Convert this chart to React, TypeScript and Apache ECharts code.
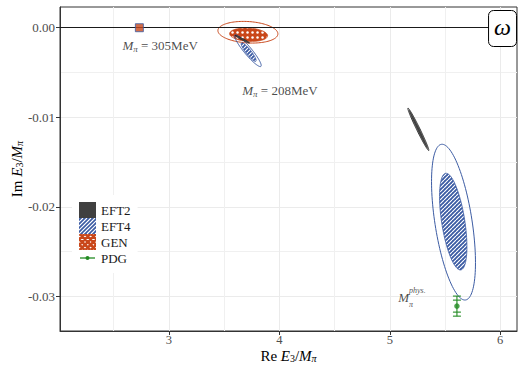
import React, { useEffect, useRef } from "react";
import * as echarts from "echarts";

// axis ranges and ticks
const X_MIN = 2.0133;
const X_MAX = 6.152;
const Y_MIN = -0.03388;
const Y_MAX = 0.002315;
const X_TICKS = [3, 4, 5, 6];
const X_MINOR = [2.5, 3.5, 4.5, 5.5];
const Y_TICKS = [-0.03, -0.02, -0.01, 0];
const Y_MINOR = [-0.025, -0.015, -0.005];

// ellipses: [centre Re, centre Im, sigma Re, sigma Im, correlation]
const GEN_BAND = [[3.7215, -0.00078, 0.172, 0.00075, -0.15]];
const GEN_OUTLINE = [[3.715, -0.000503, 0.2716, 0.00121, -0.15]];
const EFT4_BAND = [
  [3.7215, -0.00272, 0.0679, 0.00104, -0.9],
  [5.5745, -0.02166, 0.124, 0.0054, -0.52],
];
const EFT4_OUTLINE = [
  [3.715, -0.00257, 0.1204, 0.00177, -0.93],
  [5.577, -0.02172, 0.199, 0.0087, -0.52],
];
const EFT2_BAND = [
  [3.665, -0.001286, 0.058, 0.00038, -0.985],
  [5.2585, -0.01135, 0.085, 0.00215, -0.99],
];
const EFT2_OUTLINE = [
  [3.665, -0.001286, 0.0652, 0.000425, -0.98],
  [5.2585, -0.01135, 0.095, 0.00237, -0.985],
];
// 305 MeV point (zero width)
const M305_POINT = [[2.732, 0]];
// PDG omega: [Re, Im], errors [inner, outer]
const PDG_POINT = [[5.608, -0.0311]];
const PDG_ERRORS = [[0.00067, 0.00112]];
// labels
const MASS_LABELS = [
  [2.92, -0.00201, "305"],
  [4.005, -0.00701, "208"],
];
const PHYS_LABEL = [[5.2, -0.0301]];
const LEGEND_NAMES = ["EFT2", "EFT4", "GEN", "PDG"];

const FONT = "'Liberation Serif', 'DejaVu Serif', serif";
const BLUE = "#3b5ba3";
const ORANGE = "#c9471a";
const DARK = "#404040";
const GREEN = "#238b23";

function makeCanvas(w: number, h: number) {
  const c = document.createElement("canvas");
  c.width = w;
  c.height = h;
  return c;
}

function drawStripes(g: CanvasRenderingContext2D, w: number, h: number, p: number) {
  g.fillStyle = BLUE;
  g.fillRect(0, 0, w, h);
  g.strokeStyle = "#ffffff";
  g.lineWidth = 1.15;
  g.beginPath();
  for (let k = -h; k < w + h; k += p) {
    g.moveTo(k, h);
    g.lineTo(k + h, 0);
  }
  g.stroke();
}

function drawCross(g: CanvasRenderingContext2D, w: number, h: number, p: number) {
  g.fillStyle = ORANGE;
  g.fillRect(0, 0, w, h);
  g.fillStyle = "#ffffff";
  for (let x = p / 2; x < w + p; x += p) {
    for (let y = p / 2; y < h + p; y += p) {
      g.beginPath();
      g.arc(x, y, 1.25, 0, Math.PI * 2);
      g.fill();
    }
  }
}

function stripePattern() {
  const c = makeCanvas(4, 4);
  drawStripes(c.getContext("2d")!, 4, 4, 4);
  return { image: c.toDataURL(), repeat: "repeat", imageWidth: 4, imageHeight: 4 };
}

function crossPattern() {
  const c = makeCanvas(5, 5);
  drawCross(c.getContext("2d")!, 5, 5, 5);
  return { image: c.toDataURL(), repeat: "repeat", imageWidth: 5, imageHeight: 5 };
}

function legendIcon(kind: string) {
  const w = 17, h = 16;
  const c = makeCanvas(w, h);
  const g = c.getContext("2d")!;
  if (kind === "EFT2") {
    g.fillStyle = DARK;
    g.fillRect(0, 0, w, h);
  } else if (kind === "EFT4") {
    drawStripes(g, w, h, 4);
  } else if (kind === "GEN") {
    g.fillStyle = "#ffffff";
    g.fillRect(0, 0, w, h);
    g.strokeStyle = ORANGE;
    g.lineWidth = 2.6;
    g.beginPath();
    for (let k = -h; k < w + h; k += 5.6) {
      g.moveTo(k, h);
      g.lineTo(k + h, 0);
      g.moveTo(k, 0);
      g.lineTo(k + h, h);
    }
    g.stroke();
  } else {
    g.strokeStyle = GREEN;
    g.lineWidth = 1.3;
    g.beginPath();
    g.moveTo(1, 8);
    g.lineTo(16, 8);
    g.stroke();
    g.fillStyle = GREEN;
    g.beginPath();
    g.arc(8.5, 8, 2, 0, Math.PI * 2);
    g.fill();
  }
  return "image://" + c.toDataURL();
}

function ellipseSeries(name: string, data: number[][], style: any, z: number) {
  return {
    type: "custom",
    name,
    data,
    z,
    silent: true,
    renderItem: (_params: any, api: any) => {
      const cx = api.value(0), cy = api.value(1), sx = api.value(2), sy = api.value(3), r = api.value(4);
      const k = Math.sqrt(1 - r * r);
      const pts: number[][] = [];
      const n = 120;
      for (let i = 0; i < n; i++) {
        const t = (i / n) * Math.PI * 2;
        pts.push(api.coord([cx + sx * Math.cos(t), cy + sy * (r * Math.cos(t) + k * Math.sin(t))]));
      }
      return { type: "polygon", shape: { points: pts }, style: { ...style } };
    },
  };
}

const TXT = "#1a1a1a";
const richBase = {
  i: { fontFamily: FONT, fontStyle: "italic", fontSize: 13, lineHeight: 16, color: TXT },
  r: { fontFamily: FONT, fontSize: 13, lineHeight: 16, color: TXT },
  sub: { fontFamily: FONT, fontStyle: "italic", fontSize: 9, lineHeight: 9, verticalAlign: "bottom", color: TXT },
};

const physRich = {
  i: { fontFamily: FONT, fontStyle: "italic", fontSize: 13, lineHeight: 22, align: "left", color: TXT },
  sub0: { fontFamily: FONT, fontStyle: "italic", fontSize: 8, lineHeight: 8, verticalAlign: "bottom", width: 0, align: "left", color: TXT },
  sup: { fontFamily: FONT, fontStyle: "italic", fontSize: 8, lineHeight: 8, verticalAlign: "top", align: "left", color: TXT },
};

const titleRich = {
  r: { fontFamily: FONT, fontSize: 15, lineHeight: 15, color: "#000" },
  i: { fontFamily: FONT, fontStyle: "italic", fontSize: 15, lineHeight: 15, color: "#000" },
  s: { fontFamily: FONT, fontSize: 10, lineHeight: 8, verticalAlign: "bottom", color: "#000" },
  si: { fontFamily: FONT, fontStyle: "italic", fontSize: 10, lineHeight: 8, verticalAlign: "bottom", color: "#000" },
};

export default function App() {
  const ref = useRef<HTMLDivElement>(null);
  useEffect(() => {
    if (!ref.current) return;
    const chart = echarts.init(ref.current, undefined, { renderer: "svg" });
    const stripes = stripePattern();
    const cross = crossPattern();
    const gridMajor = { color: "#ebebeb", width: 1 };
    const gridMinor = { color: "#f0f0f0", width: 1 };
    const option: any = {
      animation: false,
      backgroundColor: "#ffffff",
      title: {
        text: "ω",
        right: 1,
        top: 10,
        padding: [5, 6, 8, 6],
        borderColor: "#000",
        borderWidth: 1,
        borderRadius: 5,
        backgroundColor: "#fff",
        textStyle: { fontFamily: FONT, fontStyle: "italic", fontWeight: "normal", fontSize: 24, lineHeight: 24, color: "#000" },
      },
      legend: {
        orient: "vertical",
        left: 72,
        top: 195,
        padding: 7,
        itemGap: 0,
        itemWidth: 17,
        itemHeight: 16,
        backgroundColor: "#ffffff",
        selectedMode: false,
        textStyle: { fontFamily: FONT, fontSize: 13, color: TXT },
        data: LEGEND_NAMES.map((n) => ({ name: n, icon: legendIcon(n) })),
      },
      grid: {
        left: 60,
        right: 1,
        top: 7,
        bottom: 34,
        containLabel: false,
        outerBoundsMode: "none",
        show: true,
        borderColor: "#333",
        borderWidth: 1,
        backgroundColor: "transparent",
      },
      xAxis: [
        {
          type: "value",
          min: X_MIN,
          max: X_MAX,
          position: "bottom",
          name: "{r|Re }{i|E}{s|3}{r|/}{i|M}{si|π}",
          nameLocation: "middle",
          nameGap: 17,
          nameMoveOverlap: false,
          nameTextStyle: { rich: titleRich },
          axisLine: { onZero: false, lineStyle: { color: "#333", width: 1 } },
          axisTick: { customValues: X_TICKS, length: 4, lineStyle: { color: "#333" } },
          axisLabel: {
            customValues: X_TICKS,
            margin: 3,
            lineHeight: 12,
            color: "#4d4d4d",
            fontFamily: FONT,
            fontSize: 12.5,
            formatter: (v: number) => String(v),
          },
          splitLine: { show: true, lineStyle: gridMajor },
        },
        {
          type: "value",
          min: X_MIN,
          max: X_MAX,
          position: "top",
          axisLine: { show: false, onZero: false },
          axisTick: { show: false, customValues: X_MINOR },
          axisLabel: { show: false, customValues: X_MINOR },
          splitLine: { show: true, lineStyle: gridMinor },
        },
      ],
      yAxis: [
        {
          type: "value",
          min: Y_MIN,
          max: Y_MAX,
          position: "left",
          name: "{r|Im }{i|E}{s|3}{r|/}{i|M}{si|π}",
          nameLocation: "middle",
          nameGap: 36,
          nameMoveOverlap: false,
          nameTextStyle: { rich: titleRich },
          axisLine: { onZero: false, lineStyle: { color: "#333", width: 1 } },
          axisTick: { customValues: Y_TICKS, length: 4, lineStyle: { color: "#333" } },
          axisLabel: { customValues: Y_TICKS, margin: 5, color: "#4d4d4d", fontFamily: FONT, fontSize: 13, formatter: (v: number) => v.toFixed(2) },
          splitLine: { show: true, lineStyle: gridMajor },
        },
        {
          type: "value",
          min: Y_MIN,
          max: Y_MAX,
          position: "right",
          axisLine: { show: false, onZero: false },
          axisTick: { show: false, customValues: Y_MINOR },
          axisLabel: { show: false, customValues: Y_MINOR },
          splitLine: { show: true, lineStyle: gridMinor },
        },
      ],
      series: [
        ellipseSeries("GEN", GEN_OUTLINE, { fill: "none", stroke: ORANGE, lineWidth: 1 }, 2),
        ellipseSeries("GEN", GEN_BAND, { fill: cross, stroke: ORANGE, lineWidth: 0.8 }, 3),
        ellipseSeries("EFT4", EFT4_OUTLINE, { fill: "none", stroke: BLUE, lineWidth: 1 }, 4),
        ellipseSeries("EFT4", EFT4_BAND, { fill: stripes, stroke: BLUE, lineWidth: 0.8 }, 5),
        ellipseSeries("EFT2", EFT2_OUTLINE, { fill: "none", stroke: "#1a1a1a", lineWidth: 0.9 }, 6),
        ellipseSeries("EFT2", EFT2_BAND, { fill: DARK, stroke: DARK, lineWidth: 0.5 }, 7),
        {
          type: "scatter",
          name: "GEN",
          data: M305_POINT,
          symbol: "rect",
          symbolSize: 8,
          z: 8,
          silent: true,
          itemStyle: { color: ORANGE, borderColor: BLUE, borderWidth: 1 },
        },
        {
          type: "custom",
          name: "PDG",
          data: PDG_POINT.map((p, i) => [p[0], p[1], PDG_ERRORS[i][0], PDG_ERRORS[i][1]]),
          z: 9,
          silent: true,
          renderItem: (_params: any, api: any) => {
            const x = api.value(0), y = api.value(1), e1 = api.value(2), e2 = api.value(3);
            const top = api.coord([x, y + e2]);
            const bot = api.coord([x, y - e2]);
            const t1 = api.coord([x, y + e1]);
            const b1 = api.coord([x, y - e1]);
            const w = 4;
            const st = { stroke: GREEN, lineWidth: 1.1 };
            const cap = (p: number[]) => ({ type: "line", shape: { x1: p[0] - w, y1: p[1], x2: p[0] + w, y2: p[1] }, style: st });
            return {
              type: "group",
              children: [
                { type: "line", shape: { x1: top[0], y1: top[1], x2: bot[0], y2: bot[1] }, style: st },
                cap(top),
                cap(bot),
                cap(t1),
                cap(b1),
              ],
            };
          },
        },
        {
          type: "scatter",
          name: "PDG",
          data: PDG_POINT,
          symbol: "circle",
          symbolSize: 5.5,
          z: 10,
          silent: true,
          itemStyle: { color: GREEN },
        },
        {
          type: "scatter",
          name: "labels",
          data: MASS_LABELS,
          symbolSize: 0,
          z: 11,
          silent: true,
          itemStyle: { color: "rgba(0,0,0,0)" },
          label: {
            show: true,
            position: "inside",
            formatter: (p: any) => `{i|M}{sub|π}{r| = ${p.value[2]}MeV}`,
            rich: richBase,
          },
          markLine: {
            silent: true,
            symbol: ["none", "none"],
            label: { show: false },
            lineStyle: { color: "#1a1a1a", width: 1, type: "solid" },
            data: [{ yAxis: 0 }],
          },
        },
        {
          type: "scatter",
          name: "physlabel",
          data: PHYS_LABEL,
          symbolSize: 0,
          z: 11,
          silent: true,
          itemStyle: { color: "rgba(0,0,0,0)" },
          label: {
            show: true,
            position: "inside",
            formatter: () => "{i|M}{sub0|π}{sup|phys.}",
            rich: physRich,
          },
        },
      ],
    };
    chart.setOption(option);
    return () => chart.dispose();
  }, []);
  return <div ref={ref} style={{ position: "fixed", left: 0, top: 0, width: 518, height: 365 }} />;
}
